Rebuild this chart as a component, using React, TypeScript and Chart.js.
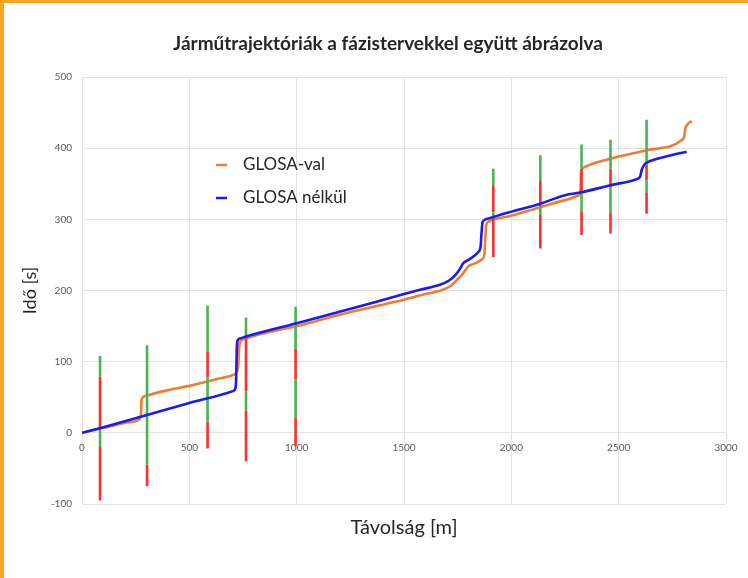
import React, { useEffect, useRef } from "react";
import { Chart, registerables } from "chart.js";

Chart.register(...registerables);

const TITLE = "Járműtrajektóriák a fázistervekkel együtt ábrázolva";
const X_TITLE = "Távolság [m]";
const Y_TITLE = "Idő [s]";
const SERIES_NAMES = ["GLOSA-val", "GLOSA nélkül"];

const X_MIN = 0;
const X_MAX = 3000;
const X_STEP = 500;
const Y_MIN = -100;
const Y_MAX = 500;
const Y_STEP = 100;

// GLOSA-val (orange)
const withGlosaX = [0, 100, 200, 262, 271, 275, 277, 283, 300, 400, 500, 585, 650, 700, 720, 728, 732, 737, 750, 850, 1000, 1200, 1400, 1500, 1600, 1680, 1720, 1750, 1770, 1790, 1800, 1830, 1865, 1874, 1879, 1883, 1895, 1920, 2000, 2135, 2250, 2316, 2322, 2325, 2332, 2460, 2630, 2793, 2805, 2811, 2822, 2840];
const withGlosaY = [0, 7, 14, 18, 21, 28, 45, 50, 52, 60, 66, 72, 77, 81, 85, 96, 120, 128, 131, 140, 150, 166, 180, 187, 195, 201, 207, 216, 222, 230, 234, 238, 244, 250, 275, 292, 297, 300, 305, 317, 327, 334, 338, 367, 372, 385, 397, 411, 416, 428, 434, 438];

// GLOSA nélkül (blue)
const withoutGlosaX = [0, 100, 303, 500, 705, 714, 718, 721, 725, 740, 760, 1000, 1200, 1500, 1574, 1667, 1710, 1740, 1760, 1775, 1800, 1846, 1857, 1861, 1866, 1880, 1990, 2135, 2250, 2327, 2462, 2580, 2600, 2608, 2620, 2640, 2716, 2817];
const withoutGlosaY = [0, 8, 25, 42, 59, 62, 75, 118, 130, 133, 135, 154, 170, 195, 201, 208, 214, 222, 230, 238, 243, 254, 262, 280, 296, 300, 310, 322, 334, 338, 348, 356, 360, 370, 377, 381, 388, 395];

// Signal phase bars: position and phase boundaries top -> bottom (green first, alternating red/green)
const signalX = [84, 303, 585, 764, 995, 1916, 2135, 2327, 2462, 2630];
const signalPhases = [
  [108, 79, 4, -20, -95],
  [123, -45, -75],
  [179, 114, 78, 16, -22],
  [162, 133, 58, 31, -40],
  [177, 118, 75, 22, -19],
  [371, 347, 310, 301, 247],
  [390, 355, 318, 306, 259],
  [405, 371, 336, 312, 278],
  [412, 371, 345, 310, 280],
  [440, 377, 355, 337, 308],
];

const ORANGE = "#ED7D31";
const BLUE = "#1A1AF2";
const GREEN = "#4CB354";
const RED = "#FF2E2E";
const TEXT = "#262626";
const TICK = "#595959";
const GRID = "#E3E3E3";
const FONT = "Lato, 'Open Sans', sans-serif";

function buildPhase(color: "green" | "red") {
  const pts: { x: number; y: number | null }[] = [];
  signalX.forEach((x, i) => {
    const b = signalPhases[i];
    for (let k = 0; k < b.length - 1; k++) {
      const isGreen = k % 2 === 0;
      if ((color === "green") === isGreen) {
        pts.push({ x, y: b[k] });
        pts.push({ x, y: b[k + 1] });
        pts.push({ x, y: null });
      }
    }
  });
  return pts;
}

const overlayPlugin = {
  id: "overlayText",
  afterDraw(chart: any) {
    const ctx = chart.ctx as CanvasRenderingContext2D;
    ctx.save();
    ctx.fillStyle = TEXT;
    ctx.textAlign = "center";
    ctx.textBaseline = "middle";
    ctx.font = `bold 19px ${FONT}`;
    ctx.fillText(TITLE, 388, 44);

    const colors = [ORANGE, BLUE];
    const rows = [165, 198];
    ctx.textAlign = "left";
    ctx.font = `17px ${FONT}`;
    SERIES_NAMES.forEach((name, i) => {
      ctx.strokeStyle = colors[i];
      ctx.lineWidth = 2.5;
      ctx.beginPath();
      ctx.moveTo(216, rows[i]);
      ctx.lineTo(227, rows[i]);
      ctx.stroke();
      ctx.fillStyle = TEXT;
      ctx.fillText(name, 243, rows[i]);
    });
    ctx.restore();
  },
};

const plainTick = (v: any) => String(v);

export default function App() {
  const ref = useRef<HTMLCanvasElement | null>(null);

  useEffect(() => {
    if (!ref.current) return;
    const chart = new Chart(ref.current, {
      type: "line",
      data: {
        datasets: [
          {
            label: SERIES_NAMES[1],
            data: withoutGlosaX.map((x, i) => ({ x, y: withoutGlosaY[i] })),
            borderColor: BLUE,
            borderWidth: 2.6,
            pointRadius: 0,
            cubicInterpolationMode: "monotone",
            order: 0,
          },
          {
            label: "zöld",
            data: buildPhase("green"),
            borderColor: GREEN,
            borderWidth: 2.6,
            borderCapStyle: "butt",
            pointRadius: 0,
            spanGaps: false,
            tension: 0,
            order: 1,
          },
          {
            label: "piros",
            data: buildPhase("red"),
            borderColor: RED,
            borderWidth: 2.6,
            borderCapStyle: "butt",
            pointRadius: 0,
            spanGaps: false,
            tension: 0,
            order: 1,
          },
          {
            label: SERIES_NAMES[0],
            data: withGlosaX.map((x, i) => ({ x, y: withGlosaY[i] })),
            borderColor: ORANGE,
            borderWidth: 2.6,
            pointRadius: 0,
            cubicInterpolationMode: "monotone",
            order: 2,
          },
        ] as any,
      },
      options: {
        animation: false,
        responsive: false,
        layout: { padding: { top: 77, left: 0, right: 22, bottom: 38 } },
        plugins: {
          legend: { display: false },
          tooltip: { enabled: false },
          title: { display: false },
        },
        scales: {
          x: {
            type: "linear",
            min: X_MIN,
            max: X_MAX,
            position: { y: 0 } as any,
            ticks: { stepSize: X_STEP, color: TICK, font: { size: 10, family: FONT }, padding: 9, maxRotation: 0, callback: plainTick },
            grid: { color: GRID, drawTicks: false, lineWidth: 1 },
            border: { display: false },
          },
          xt: {
            type: "linear",
            axis: "x",
            min: X_MIN,
            max: X_MAX,
            position: "bottom",
            ticks: { display: false },
            grid: { display: false, drawTicks: false },
            border: { display: false },
            title: { display: true, text: X_TITLE, color: TEXT, font: { size: 20, family: FONT }, padding: { top: 0, bottom: 0 } },
            afterFit: (s: any) => {
              s.height = 36;
            },
          },
          y: {
            type: "linear",
            min: Y_MIN,
            max: Y_MAX,
            ticks: { stepSize: Y_STEP, color: TICK, font: { size: 10, family: FONT }, padding: 10, callback: plainTick },
            grid: { color: GRID, drawTicks: false, lineWidth: 1 },
            border: { display: false },
            title: { display: true, text: Y_TITLE, color: TEXT, font: { size: 18, family: FONT }, padding: { top: 19, bottom: 0 } },
            afterFit: (s: any) => {
              s.width = 82;
            },
          },
        } as any,
      },
      plugins: [overlayPlugin],
    });
    return () => chart.destroy();
  }, []);

  return (
    <div style={{ position: "fixed", left: 0, top: 0, width: 748, height: 578, background: "#fff", overflow: "hidden" }}>
      <canvas ref={ref} width={748} height={578} style={{ position: "absolute", left: 0, top: 0, width: 748, height: 578 }} />
      <div style={{ position: "absolute", left: 0, top: 0, width: 748, height: 3, background: "#F7A624" }} />
      <div style={{ position: "absolute", left: 0, top: 0, width: 4, height: 578, background: "#F7A624" }} />
    </div>
  );
}
